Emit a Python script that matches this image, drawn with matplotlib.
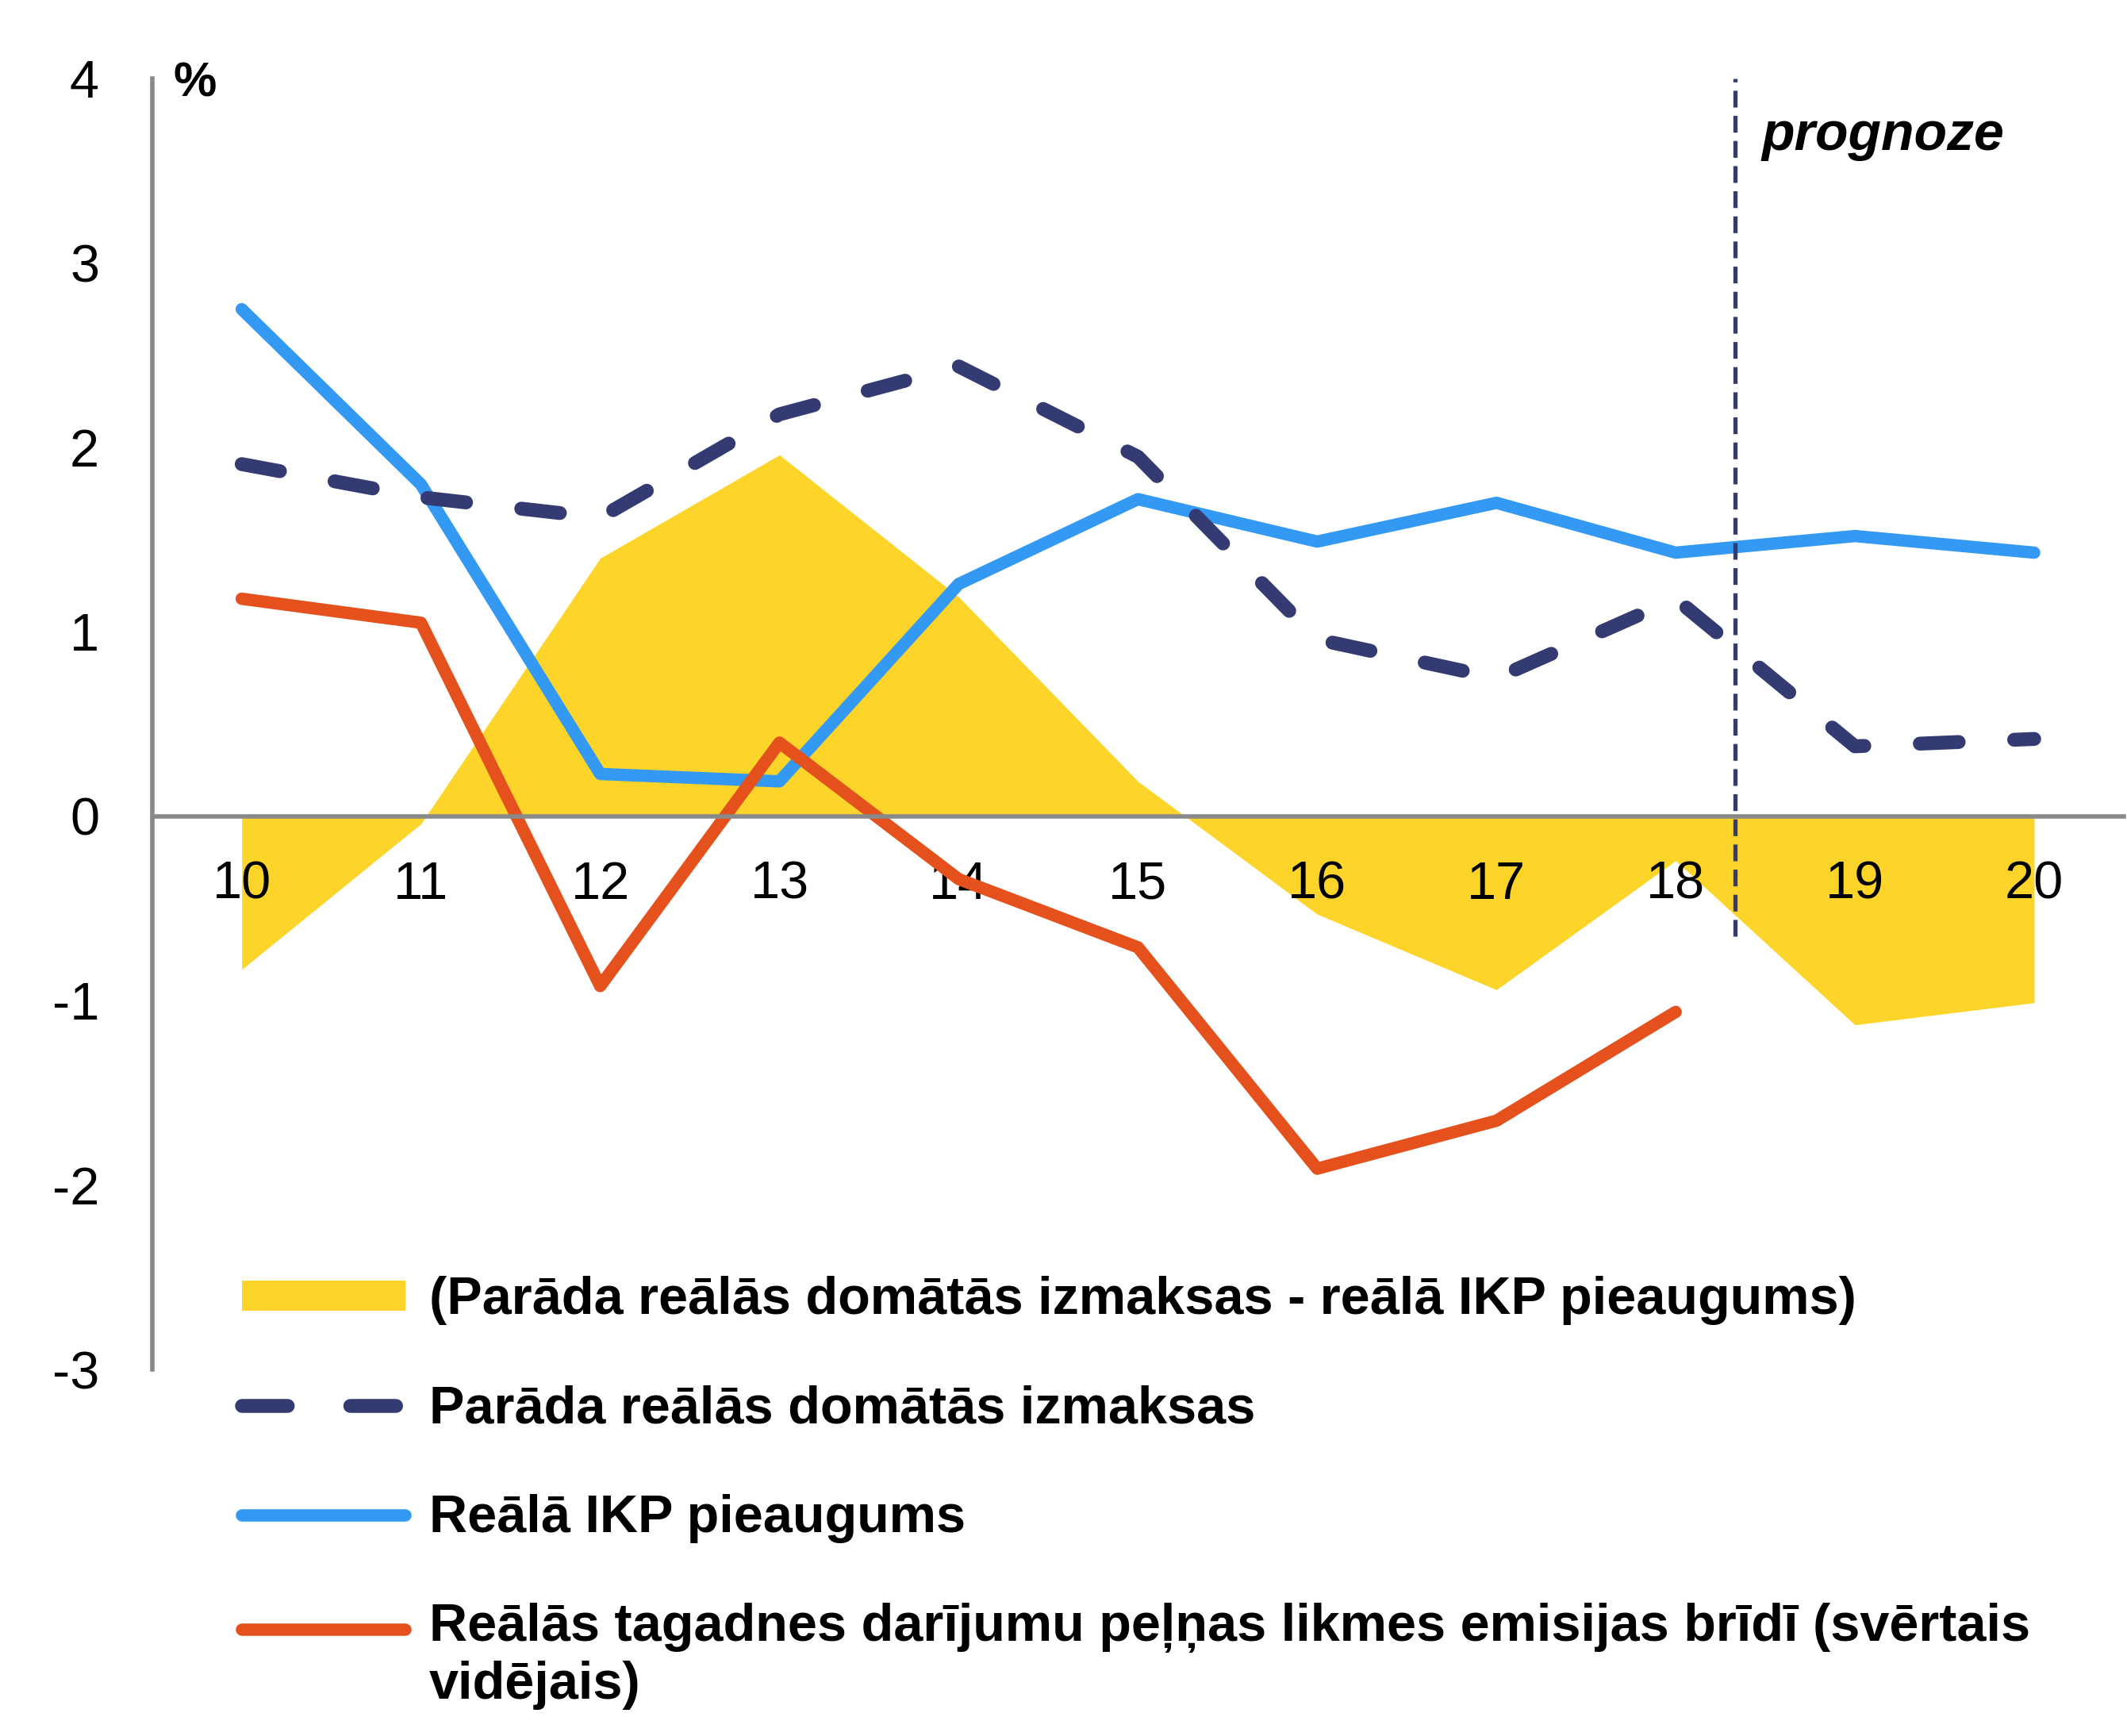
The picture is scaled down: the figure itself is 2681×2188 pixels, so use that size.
import numpy as np
import matplotlib
matplotlib.use("Agg")
import matplotlib.pyplot as plt
from matplotlib.legend_handler import HandlerLine2D

plt.rcParams['font.family'] = ['Liberation Sans', 'DejaVu Sans']
plt.rcParams['axes.unicode_minus'] = False

years = [10, 11, 12, 13, 14, 15, 16, 17, 18, 19, 20]
year_labels = ['10', '11', '12', '13', '14', '15', '16', '17', '18', '19', '20']

# parāda reālās domātās izmaksas - reālā IKP pieaugums
gap = [-0.83, -0.04, 1.40, 1.96, 1.19, 0.19, -0.53, -0.94, -0.24, -1.13, -1.01]
# parāda reālās domātās izmaksas
debt_cost = [1.91, 1.73, 1.62, 2.18, 2.44, 1.95, 0.96, 0.75, 1.18, 0.38, 0.42]
# reālā IKP pieaugums
gdp_growth = [2.75, 1.80, 0.23, 0.19, 1.26, 1.72, 1.49, 1.70, 1.43, 1.52, 1.43]
# reālās tagadnes darījumu peļņas likmes
yield_years = [10, 11, 12, 13, 14, 15, 16, 17, 18]
yield_rate = [1.18, 1.05, -0.92, 0.40, -0.34, -0.71, -1.91, -1.65, -1.06]

labels = ['(Parāda reālās domātās izmaksas - reālā IKP pieaugums)',
          'Parāda reālās domātās izmaksas',
          'Reālā IKP pieaugums',
          'Reālās tagadnes darījumu peļņas likmes emisijas brīdī (svērtais\nvidējais)']

forecast_x = 18.33

yellow = '#FDD52A'
navy = '#333B72'
blue = '#3399F2'
orange = '#E5511C'
grey = '#898989'


class ShiftedLine(HandlerLine2D):
    # legendas līnija pie pirmās teksta rindas, ar savu svītru rakstu
    def __init__(self, shift=0, dashes=None, **kw):
        super().__init__(**kw)
        self.shift = shift
        self.dashes = dashes

    def create_artists(self, legend, orig_handle, xdescent, ydescent,
                       width, height, fontsize, trans):
        artists = super().create_artists(legend, orig_handle, xdescent, ydescent,
                                         width, height, fontsize, trans)
        for a in artists:
            a.set_ydata(np.asarray(a.get_ydata()) + self.shift)
            if self.dashes is not None:
                a.set_linestyle(self.dashes)
        return artists


fig = plt.figure(figsize=(13.405, 10.94), dpi=200)
ax = fig.add_axes([0.0715, 0.211, 0.927, 0.7437])

area = ax.fill_between(years, 0, gap, color=yellow, linewidth=0, zorder=1)
l2, = ax.plot(years, gdp_growth, color=blue, lw=5.6, solid_capstyle='round', zorder=2)
l3, = ax.plot(yield_years, yield_rate, color=orange, lw=5.6, solid_capstyle='round', zorder=2.1)
l1, = ax.plot(years, debt_cost, color=navy, lw=6.3, linestyle=(0, (2.8, 4.0)),
              dash_capstyle='round', zorder=2.2)

# prognozes robeža
ax.plot([forecast_x, forecast_x], [-0.65, 4], color=navy, lw=1.9,
        linestyle=(0, (4, 2)), zorder=3)
ax.text(18.48, 3.69, 'prognoze', fontsize=24.5, fontweight='bold', style='italic',
        va='center', ha='left')
ax.text(9.62, 3.97, '%', fontsize=22, fontweight='bold', va='center', ha='left')

ax.set_xlim(9.5, 20.5)
ax.set_ylim(-3, 4)
ax.set_yticks([4, 3, 2, 1, 0, -1, -2, -3])
ax.set_xticks(years)
ax.set_xticklabels(year_labels)

for s in ['top', 'right']:
    ax.spines[s].set_visible(False)
ax.spines['bottom'].set_position(('data', 0))
ax.spines['left'].set_color(grey)
ax.spines['bottom'].set_color(grey)
ax.spines['left'].set_linewidth(2)
ax.spines['bottom'].set_linewidth(2)
ax.tick_params(axis='both', length=0, labelsize=24)
ax.tick_params(axis='y', pad=24)
ax.tick_params(axis='x', pad=20)

fig.legend([area, l1, l2, l3], labels, loc='upper left',
           bbox_to_anchor=(0.1136, 0.265), frameon=False,
           prop={'weight': 'bold', 'size': 24}, handlelength=3.1, handleheight=0.5,
           handletextpad=0.45, labelspacing=1.13, borderpad=0, borderaxespad=0,
           handler_map={l1: ShiftedLine(dashes=(0, (3.3, 4.5))),
                        l3: ShiftedLine(shift=13)})

fig.savefig('out.png', dpi=200)
